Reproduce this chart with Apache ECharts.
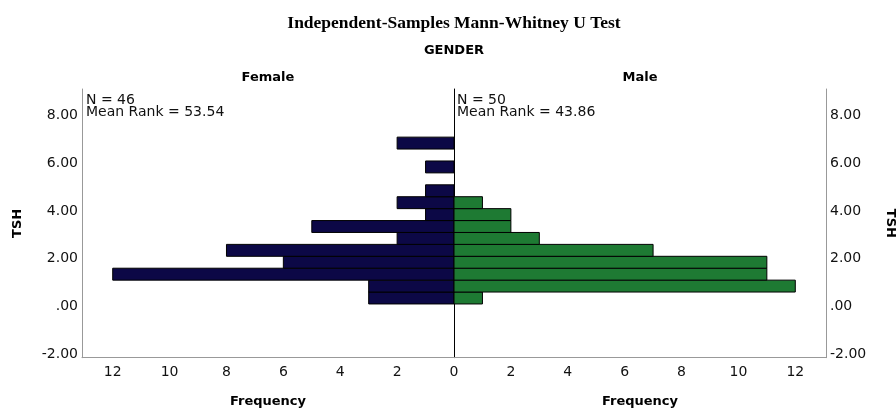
<!DOCTYPE html>
<html><head><meta charset="utf-8">
<script src="https://cdn.jsdelivr.net/npm/echarts@6/dist/echarts.min.js"></script>
<style>html,body{margin:0;padding:0;background:#fff}#c{width:896px;height:408px}</style>
</head><body><div id="c"></div>
<script>
// TSH histogram bin edges (shared by both groups)
const binEdges = [0.1, 0.6, 1.1, 1.6, 2.1, 2.6, 3.1, 3.6, 4.1, 4.6, 5.1, 5.6, 6.1, 6.6, 7.1];
// Frequencies per bin, lowest bin first
const femaleCounts = [3, 3, 12, 6, 8, 2, 5, 1, 2, 1, 0, 1, 0, 2];
const maleCounts   = [1, 12, 11, 11, 7, 3, 2, 2, 1, 0, 0, 0, 0, 0];
const groupNames = ['Female', 'Male'];
const groupN = [46, 50];
const meanRanks = ['53.54', '43.86'];
const yTickValues = [-2, 0, 2, 4, 6, 8];
const xTickValuesLeft = [0, 2, 4, 6, 8, 10, 12];
const xTickValuesRight = [2, 4, 6, 8, 10, 12];

const FONT = 'DejaVu Sans';
const chart = echarts.init(document.getElementById('c'), null, {renderer: 'canvas'});

function toData(counts) {
  return counts.map((c, i) => [binEdges[i], binEdges[i + 1], c]);
}
function renderBar(params, api) {
  const y0 = api.value(0), y1 = api.value(1), c = api.value(2);
  if (!c) return null;
  const p0 = api.coord([0, y0]);
  const p1 = api.coord([c, y1]);
  return {
    type: 'rect',
    shape: {
      x: Math.min(p0[0], p1[0]), y: Math.min(p0[1], p1[1]),
      width: Math.abs(p1[0] - p0[0]), height: Math.abs(p1[1] - p0[1])
    },
    style: api.style({stroke: '#000', lineWidth: 1})
  };
}
const yFmt = v => (v === 0 ? '.00' : v.toFixed(2));
const Y_MIN = -2.155, Y_MAX = 9.12, X_MAX = 13.08;
const axisGray = '#999';

function xAxisCfg(grid, inverse, ticks) {
  return {
    type: 'value', gridIndex: grid, min: 0, max: X_MAX, inverse: inverse, position: 'bottom',
    axisLine: {show: true, onZero: false, lineStyle: {color: axisGray, width: 1}},
    axisTick: {show: false}, splitLine: {show: false},
    axisLabel: {customValues: ticks, color: '#111', fontFamily: FONT, fontSize: 14, margin: 8},
    name: 'Frequency', nameLocation: 'middle', nameGap: 37,
    nameTextStyle: {fontFamily: FONT, fontWeight: 'bold', fontSize: 13, color: '#000'}
  };
}
function yAxisCfg(grid, pos, rot, gap) {
  return {
    type: 'value', gridIndex: grid, position: pos, min: Y_MIN, max: Y_MAX,
    axisLine: {show: true, onZero: false, lineStyle: {color: axisGray, width: 1}},
    axisTick: {show: false}, splitLine: {show: false},
    axisLabel: {customValues: yTickValues, formatter: yFmt, color: '#111', fontFamily: FONT, fontSize: 14, margin: 4},
    name: 'TSH', nameLocation: 'middle', nameGap: gap, nameRotate: rot,
    nameTextStyle: {fontFamily: FONT, fontWeight: 'bold', fontSize: 13, color: '#000'}
  };
}

const option = {
  animation: false,
  backgroundColor: '#fff',
  grid: [
    {left: 82, top: 89, width: 372, height: 268.7, outerBoundsMode: 'none', containLabel: false},
    {left: 454, top: 89, width: 372, height: 268.7, outerBoundsMode: 'none', containLabel: false}
  ],
  xAxis: [xAxisCfg(0, true, xTickValuesLeft), xAxisCfg(1, false, xTickValuesRight)],
  yAxis: [
    yAxisCfg(0, 'left', 90, 58),
    yAxisCfg(1, 'right', -90, 58),
    {type: 'value', gridIndex: 1, position: 'left', min: Y_MIN, max: Y_MAX,
     axisLine: {show: true, onZero: false, lineStyle: {color: '#000', width: 1}},
     axisTick: {show: false}, axisLabel: {show: false}, splitLine: {show: false}}
  ],
  series: [
    {type: 'custom', name: groupNames[0], xAxisIndex: 0, yAxisIndex: 0, renderItem: renderBar,
     itemStyle: {color: '#0c0846'}, encode: {x: 2, y: [0, 1]}, data: toData(femaleCounts)},
    {type: 'custom', name: groupNames[1], xAxisIndex: 1, yAxisIndex: 1, renderItem: renderBar,
     itemStyle: {color: '#1e7a33'}, encode: {x: 2, y: [0, 1]}, data: toData(maleCounts)}
  ],
  graphic: [
    {type: 'text', x: 454, y: 23, style: {text: 'Independent-Samples Mann-Whitney U Test', fill: '#000',
      font: 'bold 17.5px "Liberation Serif"', textAlign: 'center', textVerticalAlign: 'middle'}},
    {type: 'text', x: 454, y: 51, style: {text: 'GENDER', fill: '#000',
      font: 'bold 13px "DejaVu Sans"', textAlign: 'center', textVerticalAlign: 'middle'}},
    {type: 'text', x: 268, y: 78, style: {text: groupNames[0], fill: '#000',
      font: 'bold 13px "DejaVu Sans"', textAlign: 'center', textVerticalAlign: 'middle'}},
    {type: 'text', x: 640, y: 78, style: {text: groupNames[1], fill: '#000',
      font: 'bold 13px "DejaVu Sans"', textAlign: 'center', textVerticalAlign: 'middle'}},
    {type: 'text', x: 86, y: 94, style: {text: 'N = ' + groupN[0] + '\nMean Rank = ' + meanRanks[0], fill: '#111',
      font: '14px "DejaVu Sans"', lineHeight: 12, textAlign: 'left', textVerticalAlign: 'top'}},
    {type: 'text', x: 457, y: 94, style: {text: 'N = ' + groupN[1] + '\nMean Rank = ' + meanRanks[1], fill: '#111',
      font: '14px "DejaVu Sans"', lineHeight: 12, textAlign: 'left', textVerticalAlign: 'top'}}
  ]
};
chart.setOption(option);
</script></body></html>
